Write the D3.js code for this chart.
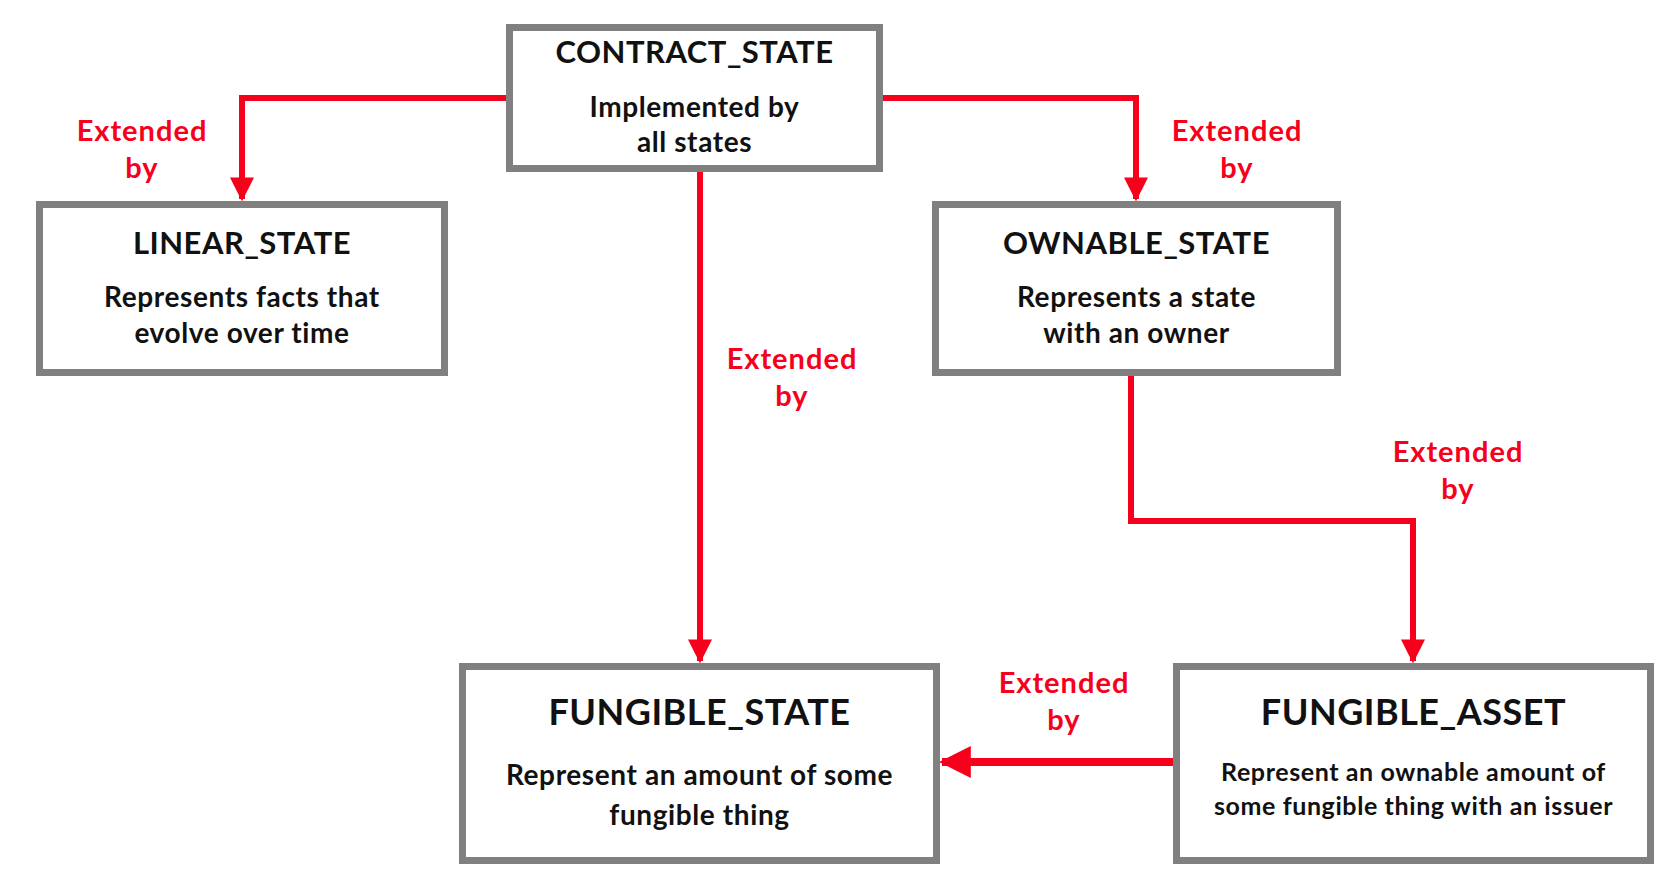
<!DOCTYPE html>
<html><head><meta charset="utf-8">
<script src="https://cdn.jsdelivr.net/npm/d3@7"></script>
<style>body{margin:0;background:#fff}svg{display:block}text{font-family:Lato,"Open Sans",sans-serif;font-weight:bold}</style>
</head><body>
<svg id="chart" width="1680" height="896"></svg>
<script>
const titles = ["CONTRACT_STATE", "LINEAR_STATE", "OWNABLE_STATE", "FUNGIBLE_STATE", "FUNGIBLE_ASSET"];
const bodies = [
  ["Implemented by", "all states"],
  ["Represents facts that", "evolve over time"],
  ["Represents a state", "with an owner"],
  ["Represent an amount of some", "fungible thing"],
  ["Represent an ownable amount of", "some fungible thing with an issuer"]
];
const edgeLabel = ["Extended", "by"];

const svg = d3.select("#chart");
const red = "#f7001c", grey = "#808080";

// box layout [x0, y0, x1, y1]
const boxes = [
  [506, 24, 883, 172], [36, 201, 448, 376], [932, 201, 1341, 376],
  [459, 663, 940, 864], [1173, 663, 1654, 864]
];
const titleY = [55, 246, 246, 716, 716];
const bodyY = [[110, 145], [300, 336], [300, 336], [778, 818], [775, 809]];
const titleSize = [31, 31, 31, 36, 36];
const bodySize = [28, 28, 28, 28, 25];

const edges = [
  [[506, 98], [242, 98], [242, 199]],
  [[883, 98], [1136, 98], [1136, 199]],
  [[700, 172], [700, 661]],
  [[1131, 376], [1131, 521], [1413, 521], [1413, 661]],
  [[1173, 762], [942, 762]]
];
const labels = [[142, 134], [1237, 134], [792, 362], [1458, 455], [1064, 686]];

svg.append("defs").append("marker").attr("id", "ah")
  .attr("viewBox", "0 0 10 10").attr("refX", 9).attr("refY", 5)
  .attr("markerWidth", 4).attr("markerHeight", 4).attr("orient", "auto")
  .attr("markerUnits", "strokeWidth")
  .append("path").attr("d", "M0,0 L10,5 L0,10 Z").attr("fill", red);

svg.selectAll("path.edge").data(edges).enter().append("path")
  .attr("class", "edge").attr("fill", "none").attr("stroke", red)
  .attr("stroke-width", (d, i) => i === 4 ? 8 : 6)
  .attr("d", d3.line()).attr("marker-end", "url(#ah)");

const g = svg.selectAll("g.node").data(titles).enter().append("g");
g.append("rect")
  .attr("x", (d, i) => boxes[i][0] + 3.5).attr("y", (d, i) => boxes[i][1] + 3.5)
  .attr("width", (d, i) => boxes[i][2] - boxes[i][0] - 7)
  .attr("height", (d, i) => boxes[i][3] - boxes[i][1] - 7)
  .attr("fill", "#fff").attr("stroke", grey).attr("stroke-width", 7);
g.append("text")
  .attr("x", (d, i) => (boxes[i][0] + boxes[i][2]) / 2).attr("y", (d, i) => titleY[i])
  .attr("text-anchor", "middle").attr("dominant-baseline", "middle")
  .attr("font-size", (d, i) => titleSize[i]).attr("letter-spacing", 0.5)
  .attr("fill", "#111").text(d => d);
g.each(function (d, i) {
  bodies[i].forEach((line, j) => {
    d3.select(this).append("text")
      .attr("x", (boxes[i][0] + boxes[i][2]) / 2).attr("y", bodyY[i][j])
      .attr("text-anchor", "middle").attr("dominant-baseline", "middle")
      .attr("font-size", bodySize[i]).attr("letter-spacing", 0.6)
      .attr("fill", "#111").text(line);
  });
});

labels.forEach(([x, y]) => {
  edgeLabel.forEach((t, j) => {
    svg.append("text").attr("x", x).attr("y", y + j * 37)
      .attr("text-anchor", "middle").attr("dominant-baseline", "middle")
      .attr("font-size", 29).attr("letter-spacing", 1).attr("fill", red).text(t);
  });
});
</script>
</body></html>
